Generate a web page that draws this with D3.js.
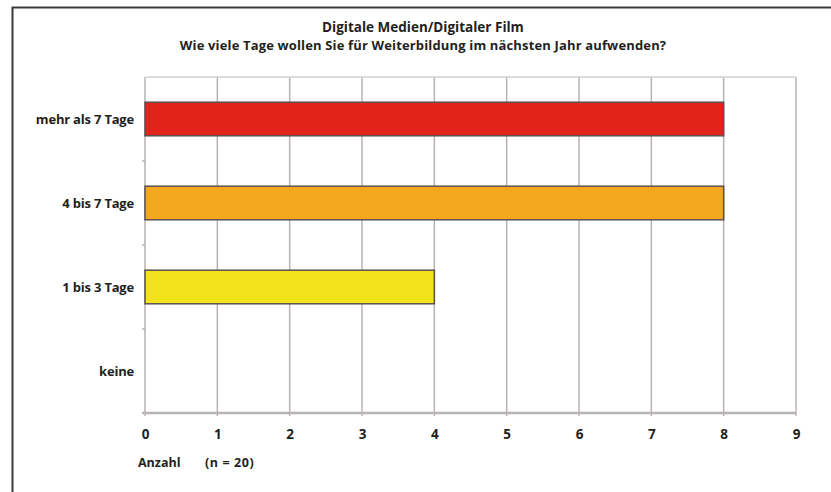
<!DOCTYPE html>
<html>
<head>
<meta charset="utf-8">
<script src="https://cdn.jsdelivr.net/npm/d3@7"></script>
<style>
  html, body { margin: 0; padding: 0; background: #fff; }
  svg { display: block; }
  text { font-family: "Open Sans", "Liberation Sans", sans-serif; font-weight: bold; fill: #231f20; }
</style>
</head>
<body>
<svg id="chart" width="831" height="492"></svg>
<script>
// Survey answers: days planned for further training next year
const categories = ["mehr als 7 Tage", "4 bis 7 Tage", "1 bis 3 Tage", "keine"];
const counts = [8, 8, 4, 0];
const barColors = ["#e2231a", "#f4a81d", "#f2e31b", "#cccccc"];
const xTicks = [0, 1, 2, 3, 4, 5, 6, 7, 8, 9];
const titleLines = ["Digitale Medien/Digitaler Film",
  "Wie viele Tage wollen Sie für Weiterbildung im nächsten Jahr aufwenden?"];
const axisTitle = "Anzahl";
const sampleNote = "(n = 20)";

const svg = d3.select("#chart");
const plotLeft = 145, plotRight = 796, plotTop = 77, plotBottom = 413;
const gridColor = "#b9b2b4";

// Outer frame (left and top edges)
svg.append("path")
  .attr("d", "M12.5,492 V7.5 H831")
  .attr("fill", "none").attr("stroke", "#3a3a3a").attr("stroke-width", 2);

const x = d3.scaleLinear().domain([0, 9]).range([plotLeft, plotRight]);
const y = d3.scaleBand().domain(categories).range([plotTop, plotBottom]).paddingInner(0.6).paddingOuter(0.3);

// Titles
svg.selectAll("text.title").data(titleLines).join("text")
  .attr("class", "title")
  .attr("x", 423).attr("y", (d, i) => i === 0 ? 32 : 50)
  .attr("text-anchor", "middle").attr("font-size", (d, i) => i === 0 ? 13.5 : 13)
  .attr("letter-spacing", (d, i) => i === 0 ? 0 : 0.15)
  .text(d => d);

// Vertical gridlines
svg.append("g").selectAll("line").data(xTicks).join("line")
  .attr("x1", d => x(d)).attr("x2", d => x(d))
  .attr("y1", plotTop).attr("y2", plotBottom + 3)
  .attr("stroke", gridColor).attr("stroke-width", 1.5);

// Top edge of plot area
svg.append("line").attr("x1", plotLeft).attr("x2", plotRight).attr("y1", plotTop).attr("y2", plotTop)
  .attr("stroke", "#d6d1d2").attr("stroke-width", 1.5);

// Bottom axis
const xAxis = d3.axisBottom(x).tickValues(xTicks).tickSize(0).tickPadding(16).tickFormat(d3.format("d"));
const gx = svg.append("g").attr("transform", `translate(0,${plotBottom})`).call(xAxis);
gx.select(".domain").attr("stroke", gridColor).attr("stroke-width", 2.5)
  .attr("d", `M${plotLeft - 3},0H${plotRight}`);
gx.selectAll("text").attr("font-size", 13.5).attr("font-family", null).attr("fill", "#231f20");

// Category axis: band boundary ticks and labels
const boundaries = categories.slice(1).map(c => y(c) - y.step() * y.paddingInner() / 2);
svg.append("g").selectAll("line").data(boundaries).join("line")
  .attr("x1", plotLeft - 3).attr("x2", plotLeft).attr("y1", d => d).attr("y2", d => d)
  .attr("stroke", gridColor).attr("stroke-width", 1.5);

svg.append("g").selectAll("text").data(categories).join("text")
  .attr("x", 134).attr("y", d => y(d) + y.bandwidth() / 2)
  .attr("dy", "0.35em").attr("text-anchor", "end").attr("font-size", 13)
  .attr("letter-spacing", -0.2)
  .text(d => d);

// Bars
svg.append("g").selectAll("rect").data(categories.filter((c, i) => counts[i] > 0)).join("rect")
  .attr("x", x(0))
  .attr("y", d => y(d))
  .attr("width", d => x(counts[categories.indexOf(d)]) - x(0))
  .attr("height", y.bandwidth())
  .attr("fill", d => barColors[categories.indexOf(d)])
  .attr("stroke", "#5b5152").attr("stroke-width", 1.5);

// Axis title and sample size
svg.append("text").attr("x", 138).attr("y", 467).attr("font-size", 12.5).text(axisTitle);
svg.append("text").attr("x", 205).attr("y", 467).attr("font-size", 12.5).attr("letter-spacing", 0.6).text(sampleNote);
</script>
</body>
</html>
